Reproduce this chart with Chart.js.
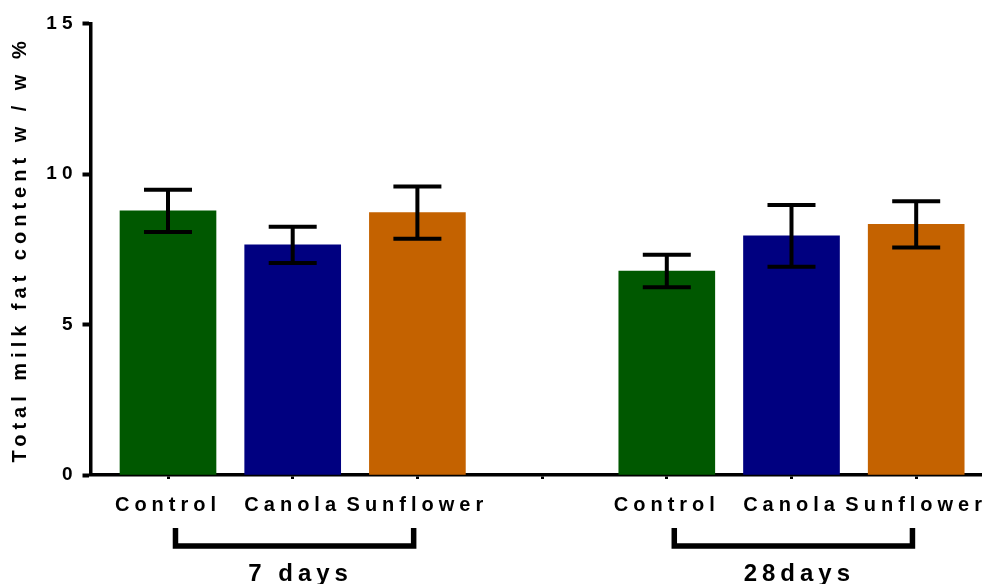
<!DOCTYPE html>
<html>
<head>
<meta charset="utf-8">
<script src="https://cdn.jsdelivr.net/npm/chart.js@4.4.1/dist/chart.umd.min.js"></script>
<style>
  html, body { margin: 0; padding: 0; background: #fff; }
  canvas { display: block; }
</style>
</head>
<body>
<canvas id="chart" width="984" height="584"></canvas>
<script>
// Diets and sampling periods
const categories = ['Control', 'Canola', 'Sunflower'];
const periods = ['7 days', '28days'];

// Mean total milk fat (w/w %) and error per diet
const fat7 = [8.78, 7.65, 8.72];
const err7 = [0.70, 0.60, 0.87];
const fat28 = [6.78, 7.95, 8.33];
const err28 = [0.54, 1.03, 0.77];

const yTicks = [0, 5, 10, 15];
const dietColors = ['#005800', '#000080', '#c46200'];

// Slots on the x axis: 1-3 hold the 7 day bars, 5-7 the 28 day bars, 4 is the gap
const groups = [
  { label: periods[0], values: fat7, errors: err7, start: 1 },
  { label: periods[1], values: fat28, errors: err28, start: 5 }
];
const points = [], barColors = [], barErrors = [], tickLabels = {};
groups.forEach(g => categories.forEach((name, i) => {
  points.push({ x: g.start + i, y: g.values[i] });
  barColors.push(dietColors[i]);
  barErrors.push(g.errors[i]);
  tickLabels[g.start + i] = name;
}));
const slots = [1, 2, 3, 4, 5, 6, 7];

const FONT = '"Liberation Sans", Arial, sans-serif';

// Wide letter spacing for every text on the canvas
const spacing = {
  id: 'spacing',
  beforeUpdate(chart) { chart.ctx.letterSpacing = '5px'; },
  beforeDraw(chart) { chart.ctx.letterSpacing = '5px'; }
};

// Error bars with caps half as wide as the bar
const errorBars = {
  id: 'errorBars',
  afterDatasetsDraw(chart) {
    const ctx = chart.ctx, y = chart.scales.y;
    const meta = chart.getDatasetMeta(0);
    ctx.save();
    ctx.strokeStyle = '#000';
    ctx.lineWidth = 4;
    ctx.lineCap = 'butt';
    meta.data.forEach((bar, i) => {
      const v = points[i].y, e = barErrors[i];
      const top = y.getPixelForValue(v + e), bot = y.getPixelForValue(v - e);
      const half = bar.width / 4;
      ctx.beginPath();
      ctx.moveTo(bar.x, top); ctx.lineTo(bar.x, bot);
      ctx.moveTo(bar.x - half, top); ctx.lineTo(bar.x + half, top);
      ctx.moveTo(bar.x - half, bot); ctx.lineTo(bar.x + half, bot);
      ctx.stroke();
    });
    ctx.restore();
  }
};

// Brackets under each period with the period name
const periodBrackets = {
  id: 'periodBrackets',
  afterDraw(chart) {
    const ctx = chart.ctx, x = chart.scales.x, base = chart.chartArea.bottom;
    ctx.save();
    ctx.strokeStyle = '#000';
    ctx.fillStyle = '#000';
    ctx.lineWidth = 5.5;
    ctx.lineCap = 'butt';
    ctx.lineJoin = 'miter';
    groups.forEach(g => {
      const x1 = x.getPixelForValue(g.start + 0.06);
      const x2 = x.getPixelForValue(g.start + 2 - 0.03);
      ctx.beginPath();
      ctx.moveTo(x1, base + 53);
      ctx.lineTo(x1, base + 71);
      ctx.lineTo(x2, base + 71);
      ctx.lineTo(x2, base + 53);
      ctx.stroke();
      ctx.font = 'bold 24px ' + FONT;
      ctx.letterSpacing = '5px';
      ctx.textAlign = 'center';
      ctx.textBaseline = 'alphabetic';
      ctx.fillText(g.label, (x1 + x2) / 2 + 6, base + 105.5);
    });
    ctx.restore();
  }
};

new Chart(document.getElementById('chart'), {
  type: 'bar',
  data: {
    datasets: [{
      data: points,
      backgroundColor: barColors,
      borderWidth: 0,
      barThickness: 96
    }]
  },
  plugins: [spacing, errorBars, periodBrackets],
  options: {
    responsive: false,
    animation: false,
    layout: { padding: { left: 0, top: 23.8, right: 3, bottom: 0 } },
    plugins: { legend: { display: false }, tooltip: { enabled: false } },
    scales: {
      x: {
        type: 'linear',
        min: 0.3785,
        max: 7.5197,
        offset: false,
        z: 1,
        grid: { offset: false, drawOnChartArea: false, tickLength: 4, tickWidth: 3, tickColor: '#000' },
        border: { display: true, color: '#000', width: 3.5 },
        afterBuildTicks(scale) { scale.ticks = slots.map(v => ({ value: v })); },
        afterFit(scale) {
          scale.height = 109;
          scale.paddingLeft = 0;
          scale.paddingRight = 0;
        },
        ticks: {
          autoSkip: false,
          maxRotation: 0,
          minRotation: 0,
          padding: 14,
          color: '#000',
          font: { family: FONT, size: 20, weight: 'bold' },
          callback: v => tickLabels[v] || ''
        }
      },
      y: {
        min: 0,
        max: 15,
        z: 1,
        grid: { drawOnChartArea: false, tickLength: 8, tickWidth: 4, tickColor: '#000' },
        border: { display: true, color: '#000', width: 3.5 },
        afterBuildTicks(scale) { scale.ticks = yTicks.map(v => ({ value: v })); },
        afterFit(scale) { scale.width = 90.5; },
        ticks: {
          padding: 5,
          color: '#000',
          font: { family: FONT, size: 19, weight: 'bold' }
        },
        title: {
          display: true,
          text: 'Total milk fat content w / w %',
          color: '#000',
          padding: { top: 8, bottom: 0 },
          font: { family: FONT, size: 20, weight: 'bold' }
        }
      }
    }
  }
});
</script>
</body>
</html>
